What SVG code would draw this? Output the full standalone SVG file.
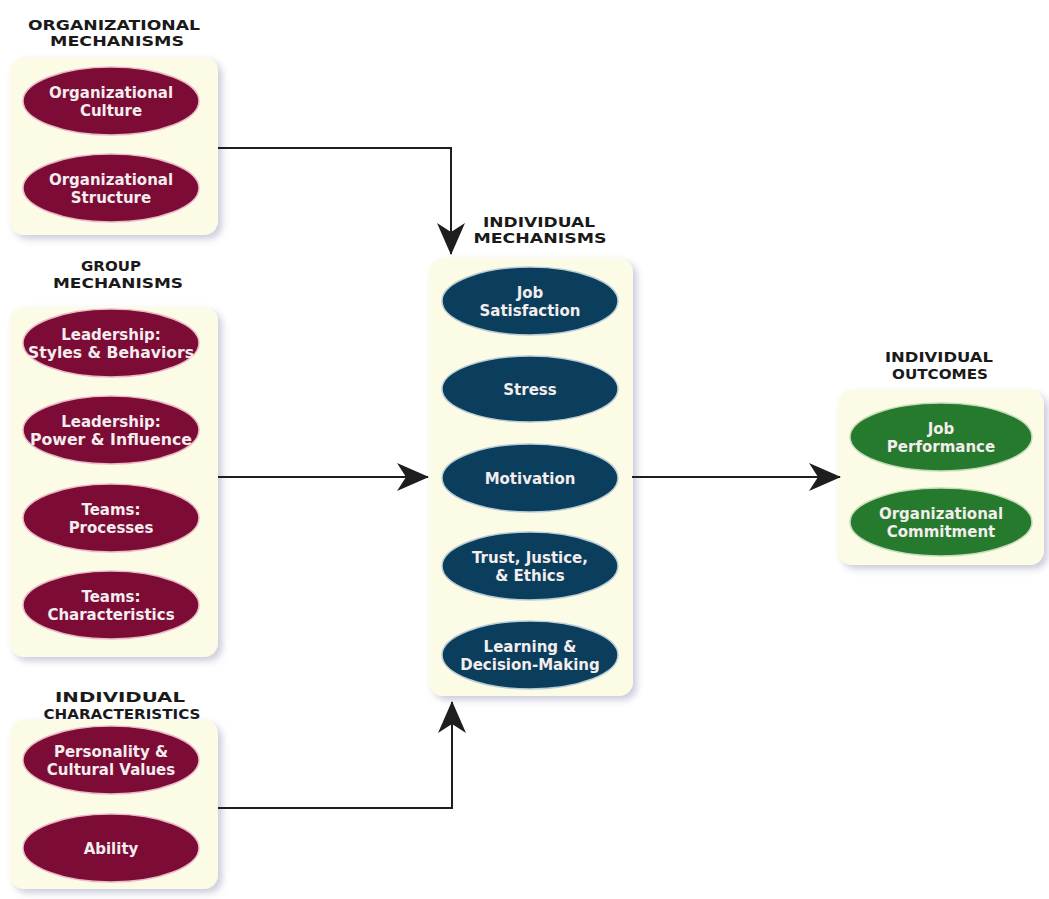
<svg xmlns="http://www.w3.org/2000/svg" width="1049" height="899" viewBox="0 0 1049 899">
<style>
.head{font-family:"DejaVu Sans","Liberation Sans",Arial,sans-serif;font-weight:bold;font-size:14.5px;fill:#1a1a1a;text-anchor:middle}
.lbl{font-family:"DejaVu Sans","Liberation Sans",Arial,sans-serif;font-weight:bold;font-size:15px;fill:#f3eded;text-anchor:middle}
.panel{fill:#fcfce6;filter:url(#sh)}
.red{fill:#7c0b36;stroke:#e9b9c7;stroke-width:1.5}
.blue{fill:#0b3d5c;stroke:#b9cdd6;stroke-width:1.5}
.green{fill:#267a2e;stroke:#c4dcb8;stroke-width:1.5}
.conn{fill:none;stroke:#1e1e1e;stroke-width:2}
</style>
<defs>
<filter id="sh" x="-10%" y="-10%" width="125%" height="125%">
<feGaussianBlur in="SourceAlpha" stdDeviation="3.5"/>
<feOffset dx="4" dy="4" result="b"/>
<feFlood flood-color="#9a98b8" flood-opacity="0.5"/>
<feComposite in2="b" operator="in"/>
<feMerge><feMergeNode/><feMergeNode in="SourceGraphic"/></feMerge>
</filter>
<marker id="arr" viewBox="0 0 32 28" refX="31" refY="14" markerWidth="32" markerHeight="28" markerUnits="userSpaceOnUse" orient="auto">
<path d="M0,0 L32,14 L0,28 L9,14 Z" fill="#1e1e1e"/>
</marker>
</defs>
<rect width="1049" height="899" fill="#ffffff"/>

<g id="org-mechanisms">
<text class="head" x="114" y="29.5" textLength="172" lengthAdjust="spacingAndGlyphs">ORGANIZATIONAL</text>
<text class="head" x="117" y="46" textLength="134" lengthAdjust="spacingAndGlyphs">MECHANISMS</text>
<rect class="panel" x="10" y="57" width="208" height="178" rx="14"/>
<g id="org-culture"><ellipse class="red" cx="111" cy="101" rx="88" ry="34"/>
<text class="lbl" x="111" y="98">Organizational</text><text class="lbl" x="111" y="115.5">Culture</text></g>
<g id="org-structure"><ellipse class="red" cx="111" cy="188" rx="88" ry="34"/>
<text class="lbl" x="111" y="185">Organizational</text><text class="lbl" x="111" y="202.5">Structure</text></g>
</g>

<g id="group-mechanisms">
<text class="head" x="111" y="271" textLength="60" lengthAdjust="spacingAndGlyphs">GROUP</text>
<text class="head" x="118" y="287.5" textLength="130" lengthAdjust="spacingAndGlyphs">MECHANISMS</text>
<rect class="panel" x="10" y="307" width="208" height="350" rx="14"/>
<g id="leadership-styles"><ellipse class="red" cx="111" cy="343" rx="88" ry="34"/>
<text class="lbl" x="111" y="340">Leadership:</text><text class="lbl" x="111" y="357.5" textLength="166" lengthAdjust="spacingAndGlyphs">Styles &amp; Behaviors</text></g>
<g id="leadership-power"><ellipse class="red" cx="111" cy="430" rx="88" ry="34"/>
<text class="lbl" x="111" y="427">Leadership:</text><text class="lbl" x="111" y="444.5" textLength="162" lengthAdjust="spacingAndGlyphs">Power &amp; Influence</text></g>
<g id="teams-processes"><ellipse class="red" cx="111" cy="518" rx="88" ry="34"/>
<text class="lbl" x="111" y="515">Teams:</text><text class="lbl" x="111" y="532.5">Processes</text></g>
<g id="teams-characteristics"><ellipse class="red" cx="111" cy="605" rx="88" ry="34"/>
<text class="lbl" x="111" y="602">Teams:</text><text class="lbl" x="111" y="619.5">Characteristics</text></g>
</g>

<g id="individual-characteristics">
<text class="head" x="120" y="702" textLength="130" lengthAdjust="spacingAndGlyphs">INDIVIDUAL</text>
<text class="head" x="122" y="718.5" textLength="157" lengthAdjust="spacingAndGlyphs">CHARACTERISTICS</text>
<rect class="panel" x="10" y="720" width="208" height="169" rx="14"/>
<g id="personality"><ellipse class="red" cx="111" cy="760" rx="88" ry="34"/>
<text class="lbl" x="111" y="757">Personality &amp;</text><text class="lbl" x="111" y="774.5">Cultural Values</text></g>
<g id="ability"><ellipse class="red" cx="111" cy="848" rx="88" ry="34"/>
<text class="lbl" x="111" y="853.5">Ability</text></g>
</g>

<g id="individual-mechanisms">
<text class="head" x="539" y="226.5" textLength="112" lengthAdjust="spacingAndGlyphs">INDIVIDUAL</text>
<text class="head" x="540" y="243" textLength="133" lengthAdjust="spacingAndGlyphs">MECHANISMS</text>
<rect class="panel" x="429" y="258" width="204" height="438" rx="14"/>
<g id="job-satisfaction"><ellipse class="blue" cx="530" cy="301" rx="88" ry="34"/>
<text class="lbl" x="530" y="298">Job</text><text class="lbl" x="530" y="315.5">Satisfaction</text></g>
<g id="stress"><ellipse class="blue" cx="530" cy="389" rx="88" ry="33"/>
<text class="lbl" x="530" y="394.5">Stress</text></g>
<g id="motivation"><ellipse class="blue" cx="530" cy="478" rx="88" ry="34"/>
<text class="lbl" x="530" y="483.5">Motivation</text></g>
<g id="trust"><ellipse class="blue" cx="530" cy="566" rx="88" ry="34"/>
<text class="lbl" x="530" y="563">Trust, Justice,</text><text class="lbl" x="530" y="580.5">&amp; Ethics</text></g>
<g id="learning"><ellipse class="blue" cx="530" cy="655" rx="88" ry="34"/>
<text class="lbl" x="530" y="652">Learning &amp;</text><text class="lbl" x="530" y="669.5">Decision-Making</text></g>
</g>

<g id="individual-outcomes">
<text class="head" x="939" y="362" textLength="108" lengthAdjust="spacingAndGlyphs">INDIVIDUAL</text>
<text class="head" x="940" y="378.5" textLength="96" lengthAdjust="spacingAndGlyphs">OUTCOMES</text>
<rect class="panel" x="838" y="390" width="206" height="175" rx="14"/>
<g id="job-performance"><ellipse class="green" cx="941" cy="437" rx="91" ry="34"/>
<text class="lbl" x="941" y="434">Job</text><text class="lbl" x="941" y="451.5">Performance</text></g>
<g id="org-commitment"><ellipse class="green" cx="941" cy="522" rx="91" ry="34"/>
<text class="lbl" x="941" y="519">Organizational</text><text class="lbl" x="941" y="536.5">Commitment</text></g>
</g>

<g id="connectors">
<path class="conn" d="M218,148 H451 V254" marker-end="url(#arr)"/>
<path class="conn" d="M218,477 H428" marker-end="url(#arr)"/>
<path class="conn" d="M218,808 H452 V702" marker-end="url(#arr)"/>
<path class="conn" d="M632,477 H840" marker-end="url(#arr)"/>
</g>
</svg>
